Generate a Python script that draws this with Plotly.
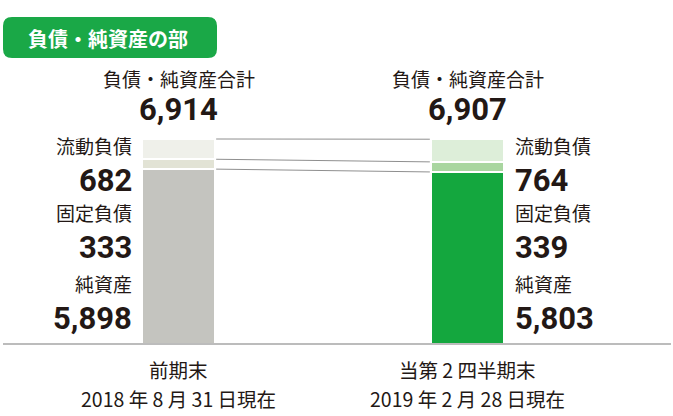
import plotly.graph_objects as go

# ---- data ----
periods = ["前期末", "当第 2 四半期末"]
dates = ["2018 年 8 月 31 日現在", "2019 年 2 月 28 日現在"]
net_assets = [5898, 5803]
fixed_liab = [333, 339]
current_liab = [682, 764]
totals = [6914, 6907]
seg_names = ["純資産", "固定負債", "流動負債"]
total_label = "負債・純資産合計"
title_text = "負債・純資産の部"

# ---- layout helpers (pixels) ----
W, H = 673, 416
base_px = 344          # pixel row of value 0
top_px = 139           # pixel row of the first total
k = (base_px - top_px) / totals[0]   # px per unit
cx = [178.5, 467.5]
unit_px = cx[1] - cx[0]
bar_w = 73 / unit_px
x0 = -cx[0] / unit_px
x1 = x0 + W / unit_px
y_lo = -(H - base_px) / k
y_hi = base_px / k

def xp(px):
    return px / W

def yp(py):
    return 1 - py / H

left_cols = ["#c4c4bf", "#e2e3d5", "#eff0ea"]
right_cols = ["#14a73e", "#a9d6a0", "#ddeed9"]
txt = "#231815"
cjk = "Noto Sans CJK JP"
num = "Roboto, Noto Sans CJK JP"

fig = go.Figure()
xs = [0, 1]
for i, vals in enumerate([net_assets, fixed_liab, current_liab]):
    fig.add_trace(go.Bar(
        x=xs, y=vals, width=bar_w, name=seg_names[i],
        marker=dict(color=[left_cols[i], right_cols[i]], line=dict(color="white", width=2)),
        hoverinfo="skip", showlegend=False,
    ))

# connector lines between bars
levels = [
    totals,
    [net_assets[j] + fixed_liab[j] for j in range(2)],
    net_assets,
]
for lv in levels:
    fig.add_trace(go.Scatter(
        x=[0 + bar_w / 2 + 0.004, 1 - bar_w / 2 - 0.004], y=lv, mode="lines",
        line=dict(color="#8f8f8f", width=1), hoverinfo="skip", showlegend=False,
    ))

shapes = []
# baseline
shapes.append(dict(type="line", xref="paper", yref="y", x0=xp(3), x1=xp(671), y0=0, y1=0,
                   line=dict(color="#7a7a7a", width=1.2)))
# title badge (rounded rect)
L, R, T, B = 3, 217, 17, 58
rx, ry = 9 / W, 9 / H
l, r, t, b = xp(L), xp(R), yp(T), yp(B)
path = (f"M {l+rx},{t} L {r-rx},{t} Q {r},{t} {r},{t-ry} L {r},{b+ry} Q {r},{b} {r-rx},{b} "
        f"L {l+rx},{b} Q {l},{b} {l},{b+ry} L {l},{t-ry} Q {l},{t} {l+rx},{t} Z")
shapes.append(dict(type="path", xref="paper", yref="paper", path=path,
                   fillcolor="#1aa847", line=dict(width=0)))

ann = []
def add(text, x, y, size, family, anchor="center", color=txt, bold=False):
    if bold:
        text = f"<b>{text}</b>"
    ann.append(dict(text=text, xref="paper", yref="paper", x=xp(x), y=yp(y),
                    xanchor=anchor, yanchor="middle", showarrow=False, borderpad=0,
                    font=dict(size=size, family=family, color=color)))

add(title_text, 108, 38, 20, cjk, color="white", bold=True)

for j in range(2):
    add(total_label, cx[j], 78, 19, cjk)
    add(f"{totals[j]:,}", cx[j], 110, 31, num, bold=True)
    add(periods[j], cx[j], 369, 19.5, cjk)
    add(dates[j], cx[j], 398, 19.5, cjk)

side_x = [133, 514]
side_anchor = ["right", "left"]
rows = [
    (seg_names[2], current_liab, 145, 180),
    (seg_names[1], fixed_liab, 213, 247),
    (seg_names[0], net_assets, 283, 318),
]
for name, vals, ly, vy in rows:
    for j in range(2):
        add(name, side_x[j], ly, 19, cjk, anchor=side_anchor[j])
        add(f"{vals[j]:,}", side_x[j], vy, 31, num, anchor=side_anchor[j], bold=True)

fig.update_layout(
    width=W, height=H, barmode="stack", bargap=0,
    margin=dict(l=0, r=0, t=0, b=0),
    paper_bgcolor="white", plot_bgcolor="white",
    xaxis=dict(range=[x0, x1], visible=False, fixedrange=True),
    yaxis=dict(range=[y_lo, y_hi], visible=False, fixedrange=True),
    shapes=shapes, annotations=ann,
)

fig.write_html("out.html", config={"displayModeBar": False},
               post_script="document.body.style.margin='0';document.body.style.overflow='hidden';")
